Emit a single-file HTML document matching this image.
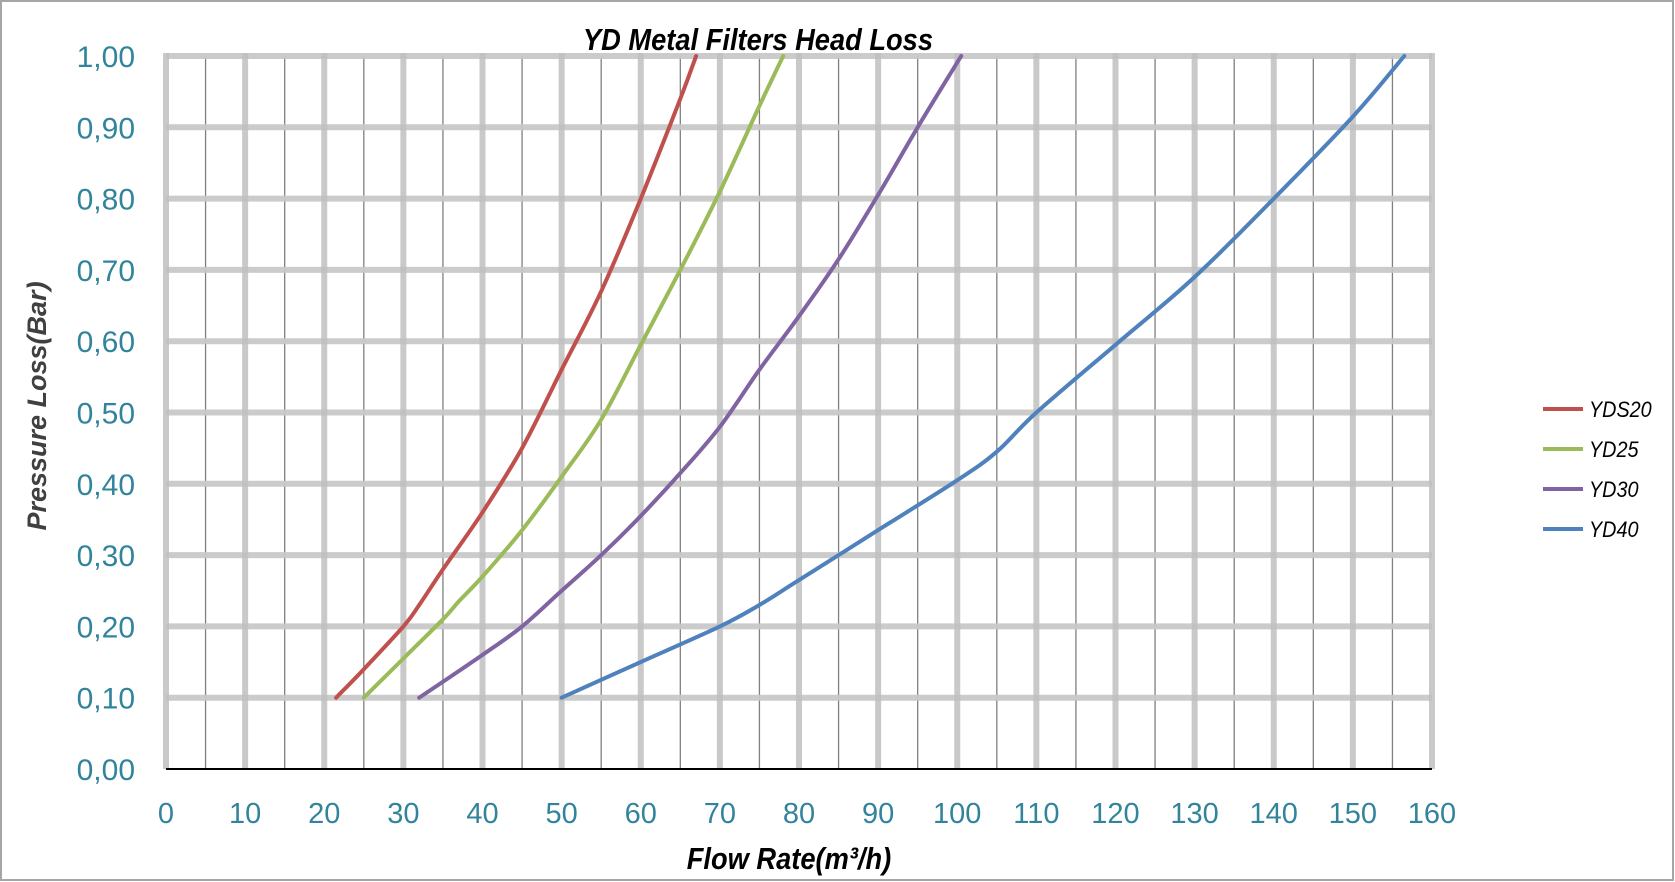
<!DOCTYPE html>
<html><head><meta charset="utf-8"><style>
html,body{margin:0;padding:0;background:#fff;}
svg{display:block;font-family:"Liberation Sans",sans-serif;}
</style></head><body>
<svg id="chart" width="1675" height="882" viewBox="0 0 1675 882">
<rect x="1" y="1" width="1672" height="879" fill="#fff" stroke="#a6a6a6" stroke-width="2"/>
<text x="758" y="50" text-anchor="middle" font-size="31" font-weight="bold" font-style="italic" fill="#000" transform="translate(758,0) scale(0.88,1) translate(-758,0)">YD Metal Filters Head Loss</text>
<g id="grid"></g>
<g id="axes"></g>
<g id="series"></g>
<text x="0" y="0" font-size="27" font-weight="bold" font-style="italic" fill="#404040" text-anchor="middle" transform="translate(46,406) rotate(-90)">Pressure Loss(Bar)</text>
<text x="789" y="869" font-size="31" font-weight="bold" font-style="italic" fill="#000" text-anchor="middle" transform="translate(789,0) scale(0.88,1) translate(-789,0)">Flow Rate(m³/h)</text>
<g id="legend"></g>
</svg>
<script>
const xTicks=[0,10,20,30,40,50,60,70,80,90,100,110,120,130,140,150,160];
const yTicks=[0,0.1,0.2,0.3,0.4,0.5,0.6,0.7,0.8,0.9,1.0];
const yTickLabels=["0,00","0,10","0,20","0,30","0,40","0,50","0,60","0,70","0,80","0,90","1,00"];
const seriesNames=["YDS20","YD25","YD30","YD40"];
const yds20X=[21.5,25,30,32,35,40,45,50,55,60,65,67];
const yds20Y=[0.1,0.14,0.2,0.23,0.28,0.36,0.45,0.56,0.67,0.8,0.94,1.0];
const yd25X=[25,30,35,37,40,45,50,55,60,65,70,75,78];
const yd25Y=[0.1,0.155,0.21,0.235,0.27,0.335,0.41,0.49,0.595,0.70,0.81,0.93,1.0];
const yd30X=[32,40,45,50,55,60,65,70,75,80,85,90,95,100.5];
const yd30Y=[0.1,0.16,0.2,0.25,0.3,0.355,0.415,0.48,0.56,0.635,0.715,0.805,0.9,1.0];
const yd40X=[50,60,70,75,80,90,100,105,110,120,130,140,150,156.5];
const yd40Y=[0.1,0.15,0.2,0.23,0.265,0.335,0.405,0.445,0.5,0.595,0.69,0.8,0.915,1.0];

const NS="http://www.w3.org/2000/svg";
const X0=166,X1=1432,Y0=769,Y1=56;
const sx=v=>X0+(v-0)/(160-0)*(X1-X0);
const sy=v=>Y0-(v-0)/(1-0)*(Y0-Y1);
function mk(tag,attrs,parent){const e=document.createElementNS(NS,tag);for(const k in attrs)e.setAttribute(k,attrs[k]);parent.appendChild(e);return e;}
const grid=document.getElementById('grid'),axes=document.getElementById('axes'),ser=document.getElementById('series'),leg=document.getElementById('legend');
for(let i=0;i<xTicks.length-1;i++){
  const v=(xTicks[i]+xTicks[i+1])/2;
  const l=mk('line',{x1:sx(v),x2:sx(v),y1:Y1,y2:Y0,stroke:'#7f7f7f','stroke-width':1.3},grid);
  
  
}
yTicks.forEach((v,i)=>{
  if(v===0)return;
  const l=mk('line',{x1:X0,x2:X1,y1:sy(v),y2:sy(v),stroke:'#c8c8c8','stroke-width':6,'stroke-opacity':0.95},grid);
  
  
});
xTicks.forEach(v=>{
  const l=mk('line',{x1:sx(v),x2:sx(v),y1:Y1-3,y2:Y0,stroke:'#c0c0c0','stroke-width':6,'stroke-opacity':0.85},grid);
  
  
  const t=mk('text',{x:sx(v),y:823,'text-anchor':'middle','font-size':29,fill:'#31849b'},axes);
  t.textContent=v;
  
  
});
yTicks.forEach((v,i)=>{
  const t=mk('text',{x:135,y:sy(v)+11,'text-anchor':'end','font-size':30,fill:'#31849b'},axes);
  t.textContent=yTickLabels[i];
  
  
});
const xa=mk('line',{x1:X0,x2:X1,y1:Y0,y2:Y0,stroke:'#000','stroke-width':2},axes);


function smooth(px,py){
  const p=px.map((x,i)=>[sx(x),sy(py[i])]);
  let d='M'+p[0][0].toFixed(1)+','+p[0][1].toFixed(1);
  for(let i=0;i<p.length-1;i++){
    const a=p[Math.max(i-1,0)],b=p[i],c=p[i+1],e=p[Math.min(i+2,p.length-1)];
    const c1=[b[0]+(c[0]-a[0])/6,b[1]+(c[1]-a[1])/6],c2=[c[0]-(e[0]-b[0])/6,c[1]-(e[1]-b[1])/6];
    d+=' C'+c1[0].toFixed(1)+','+c1[1].toFixed(1)+' '+c2[0].toFixed(1)+','+c2[1].toFixed(1)+' '+c[0].toFixed(1)+','+c[1].toFixed(1);
  }
  return d;
}
const colors=['#c0504d','#9bbb59','#8064a2','#4f81bd'];
const data=[[yds20X,yds20Y],[yd25X,yd25Y],[yd30X,yd30Y],[yd40X,yd40Y]];
data.forEach((s,i)=>{
  const p=mk('path',{d:smooth(s[0],s[1]),fill:'none',stroke:colors[i],'stroke-width':4,'stroke-linecap':'round'},ser);
  
  
  const y=409+i*40;
  const g=mk('g',{},leg);
  
  
  mk('line',{x1:1543,x2:1583,y1:y,y2:y,stroke:colors[i],'stroke-width':4},g);
  const t=mk('text',{x:1589,y:y+8,'font-size':22,'font-style':'italic',fill:'#000',transform:'translate(1589,0) scale(0.9,1) translate(-1589,0)'},g);
  t.textContent=seriesNames[i];
});
</script>
</body></html>
